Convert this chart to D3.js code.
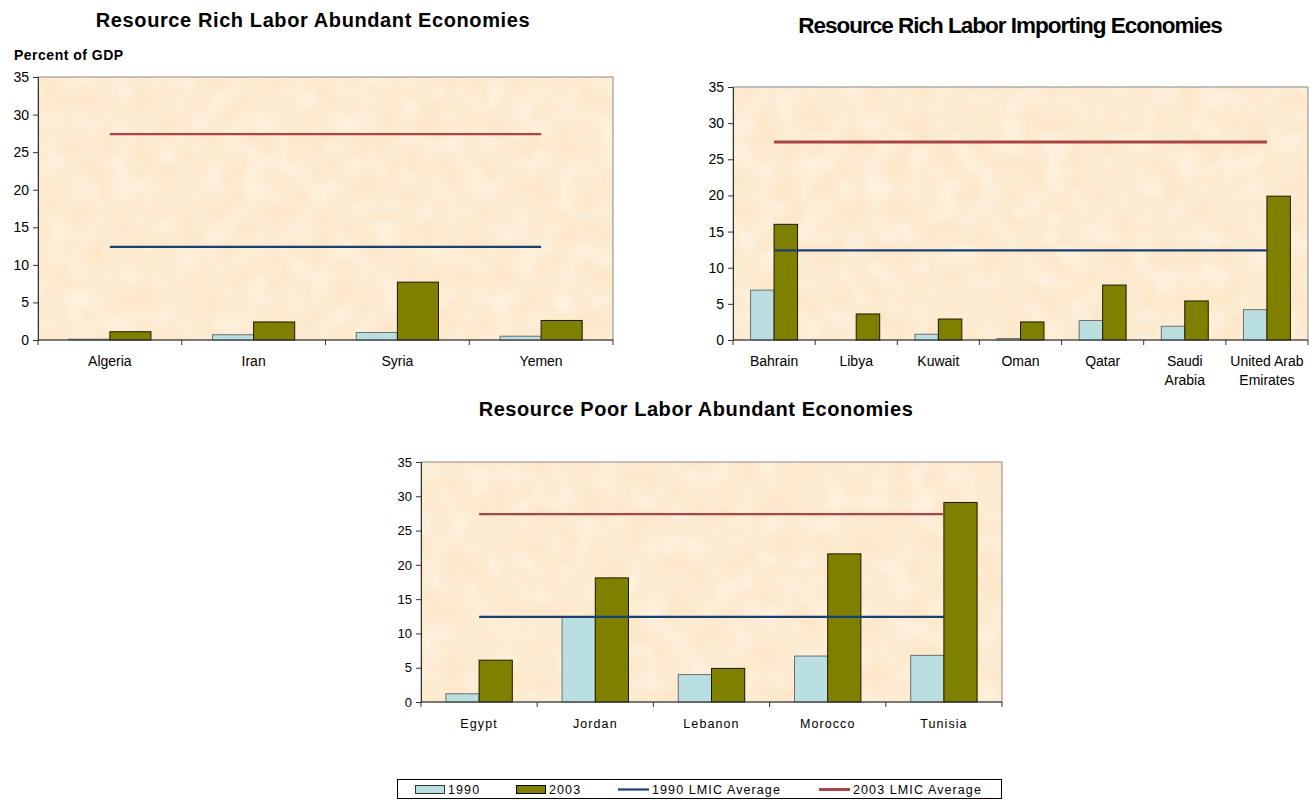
<!DOCTYPE html>
<html>
<head>
<meta charset="utf-8">
<script src="https://cdn.jsdelivr.net/npm/d3@7"></script>
<style>
  html, body { margin: 0; padding: 0; background: #fff; }
  svg { display: block; font-family: "Liberation Sans", Arial, sans-serif; }
</style>
</head>
<body>
<svg id="chart" width="1315" height="800"></svg>
<script>
// ---- data (percent of GDP) ----
const yTicks = [0, 5, 10, 15, 20, 25, 30, 35];
const avg1990 = 12.4;   // 1990 LMIC average
const avg2003 = 27.4;   // 2003 LMIC average

const richAbundantCats = ["Algeria", "Iran", "Syria", "Yemen"];
const richAbundant1990 = [0.1, 0.7, 1.0, 0.5];
const richAbundant2003 = [1.1, 2.4, 7.7, 2.6];

const richImportingCats = ["Bahrain", "Libya", "Kuwait", "Oman", "Qatar", "Saudi\nArabia", "United Arab\nEmirates"];
const richImporting1990 = [6.9, 0, 0.8, 0.2, 2.7, 1.9, 4.2];
const richImporting2003 = [16.0, 3.6, 2.9, 2.5, 7.6, 5.4, 19.9];

const poorAbundantCats = ["Egypt", "Jordan", "Lebanon", "Morocco", "Tunisia"];
const poorAbundant1990 = [1.2, 12.4, 4.0, 6.7, 6.8];
const poorAbundant2003 = [6.1, 18.1, 4.9, 21.6, 29.1];

const legendItems = ["1990", "2003", "1990 LMIC Average", "2003 LMIC Average"];

// ---- styles ----
const col1990 = "#b9dfe1";
const col2003 = "#808000";
const colAvg1990 = "#1b3f73";
const colAvg2003 = "#ab4444";
const plotBg = "#fde8cc";

const svg = d3.select("#chart");

// soft mottled plot-area fill
const defs = svg.append("defs");
const flt = defs.append("filter").attr("id", "mottle").attr("x", 0).attr("y", 0).attr("width", 1).attr("height", 1);
flt.append("feTurbulence").attr("type", "fractalNoise").attr("baseFrequency", 0.045).attr("numOctaves", 2).attr("seed", 7).attr("result", "noise");
flt.append("feColorMatrix").attr("in", "noise").attr("type", "matrix")
  .attr("values", "0 0 0 0 1  0 0 0 0 0.97  0 0 0 0 0.88  1.2 0 0 0 -0.45").attr("result", "spots");
flt.append("feGaussianBlur").attr("in", "spots").attr("stdDeviation", 2).attr("result", "soft");
flt.append("feComposite").attr("in", "soft").attr("in2", "SourceGraphic").attr("operator", "in").attr("result", "clipped");
flt.append("feMerge").call(m => { m.append("feMergeNode").attr("in", "SourceGraphic"); m.append("feMergeNode").attr("in", "clipped"); });

function drawPanel(opt) {
  const { left, top, right, bottom, cats, v1990, v2003, title, titleX, titleY,
          tickFont, catFont, catSpacing, titleSize, titleSpacing, avgWidth } = opt;
  const g = svg.append("g");

  const x = d3.scaleBand().domain(cats).range([left, right]).paddingInner(0).paddingOuter(0);
  const y = d3.scaleLinear().domain([0, 35]).range([bottom, top]);
  const barW = x.bandwidth() / 3.5;

  // plot area
  g.append("rect").attr("x", left).attr("y", top).attr("width", right - left).attr("height", bottom - top)
    .attr("fill", plotBg).attr("filter", "url(#mottle)");
  g.append("rect").attr("x", left).attr("y", top).attr("width", right - left).attr("height", bottom - top)
    .attr("fill", "none").attr("stroke", "#8c8c8c").attr("stroke-width", 1);

  // bars
  const rows = cats.map((c, i) => ({ c, a: v1990[i], b: v2003[i] }));
  g.selectAll(".b90").data(rows.filter(d => d.a > 0)).join("rect")
    .attr("x", d => x(d.c) + x.bandwidth() / 2 - barW)
    .attr("y", d => y(d.a)).attr("width", barW).attr("height", d => bottom - y(d.a))
    .attr("fill", col1990).attr("stroke", "#6e6e6e").attr("stroke-width", 1);
  g.selectAll(".b03").data(rows).join("rect")
    .attr("x", d => x(d.c) + x.bandwidth() / 2)
    .attr("y", d => y(d.b)).attr("width", barW).attr("height", d => bottom - y(d.b))
    .attr("fill", col2003).attr("stroke", "#1a1a00").attr("stroke-width", 1);

  // LMIC average lines, from first to last category centre
  const line = d3.line().x(d => x(d) + x.bandwidth() / 2);
  g.append("path").attr("d", line.y(() => y(avg2003))(cats))
    .attr("fill", "none").attr("stroke", colAvg2003).attr("stroke-width", avgWidth || 2.2);
  g.append("path").attr("d", line.y(() => y(avg1990))(cats))
    .attr("fill", "none").attr("stroke", colAvg1990).attr("stroke-width", 2.2);

  // y axis
  const ya = g.append("g").attr("transform", `translate(${left},0)`)
    .call(d3.axisLeft(y).tickValues(yTicks).tickSize(5).tickPadding(4));
  ya.select(".domain").attr("stroke", "#333");
  ya.selectAll(".tick line").attr("stroke", "#333");
  ya.selectAll(".tick text").attr("font-size", tickFont).attr("fill", "#000")
    .attr("font-family", "Liberation Sans, Arial, sans-serif");

  // x axis with ticks at category boundaries
  const xa = g.append("g").attr("transform", `translate(0,${bottom})`);
  xa.append("line").attr("x1", left).attr("x2", right).attr("stroke", "#333");
  const bounds = cats.map(c => x(c)).concat([right]);
  xa.selectAll(".xt").data(bounds).join("line")
    .attr("x1", d => d).attr("x2", d => d).attr("y1", 0).attr("y2", 5).attr("stroke", "#333");
  const lbl = xa.selectAll(".xl").data(cats).join("text")
    .attr("x", d => x(d) + x.bandwidth() / 2)
    .attr("text-anchor", "middle").attr("font-size", catFont).attr("fill", "#000")
    .attr("letter-spacing", catSpacing || 0);
  lbl.each(function (d) {
    const parts = d.split("\n");
    const t = d3.select(this);
    parts.forEach((p, i) => {
      t.append("tspan").attr("x", x(d) + x.bandwidth() / 2).attr("y", 26 + i * 19).text(p);
    });
  });

  // panel title
  g.append("text").attr("x", titleX).attr("y", titleY).attr("text-anchor", "middle")
    .attr("font-size", titleSize).attr("font-weight", "bold").attr("fill", "#000")
    .attr("letter-spacing", titleSpacing || 0).text(title);
}

drawPanel({
  left: 38, top: 77, right: 613, bottom: 340,
  cats: richAbundantCats, v1990: richAbundant1990, v2003: richAbundant2003,
  title: "Resource Rich Labor Abundant Economies", titleX: 313, titleY: 27,
  titleSize: 20, titleSpacing: 0.6, tickFont: 14, catFont: 14
});
svg.append("text").attr("x", 14).attr("y", 60).attr("font-size", 14).attr("font-weight", "bold")
  .attr("letter-spacing", 0.5).attr("fill", "#000").text("Percent of GDP");

drawPanel({
  left: 733, top: 87, right: 1308, bottom: 340,
  cats: richImportingCats, v1990: richImporting1990, v2003: richImporting2003,
  title: "Resource Rich Labor Importing Economies", titleX: 1010, titleY: 33,
  titleSize: 22.5, titleSpacing: -1, tickFont: 14, catFont: 14, avgWidth: 3
});

drawPanel({
  left: 421, top: 462, right: 1002, bottom: 702,
  cats: poorAbundantCats, v1990: poorAbundant1990, v2003: poorAbundant2003,
  title: "Resource Poor Labor Abundant Economies", titleX: 696, titleY: 416,
  titleSize: 20, titleSpacing: 0.55, tickFont: 13, catFont: 12.5, catSpacing: 1.1
});

// legend
const lg = svg.append("g");
lg.append("rect").attr("x", 397.5).attr("y", 779.5).attr("width", 604).attr("height", 19)
  .attr("fill", "#fff").attr("stroke", "#000");
const legX = [415, 516, 618, 819];
legendItems.forEach((name, i) => {
  const x0 = legX[i];
  if (i < 2) {
    lg.append("rect").attr("x", x0 + 0.5).attr("y", 785.5).attr("width", 29).attr("height", 8)
      .attr("fill", i === 0 ? col1990 : col2003).attr("stroke", i === 0 ? "#333" : "#000");
  } else {
    lg.append("line").attr("x1", x0).attr("x2", x0 + 31).attr("y1", 789.5).attr("y2", 789.5)
      .attr("stroke", i === 2 ? colAvg1990 : colAvg2003).attr("stroke-width", i === 3 ? 3 : 2.2);
  }
  lg.append("text").attr("x", i < 2 ? x0 + 33 : x0 + 34).attr("y", 794).attr("font-size", 12.5)
    .attr("letter-spacing", 1.1).attr("fill", "#000").text(name);
});
</script>
</body>
</html>
